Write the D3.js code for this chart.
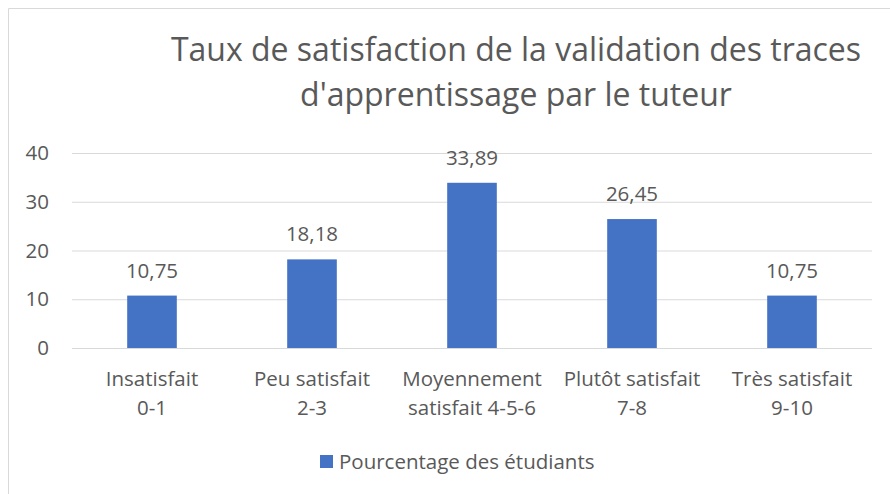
<!DOCTYPE html>
<html>
<head>
<meta charset="utf-8">
<script src="https://cdn.jsdelivr.net/npm/d3@7"></script>
<style>
  body { margin: 0; background: #fff; }
  text { font-family: "Open Sans", "Noto Sans", sans-serif; fill: #595959; }
</style>
</head>
<body>
<svg id="chart"></svg>
<script>
const categories = [
  ['Insatisfait', '0-1'],
  ['Peu satisfait', '2-3'],
  ['Moyennement', 'satisfait 4-5-6'],
  ['Plutôt satisfait', '7-8'],
  ['Très satisfait', '9-10']
];
const values = [10.75, 18.18, 33.89, 26.45, 10.75];
const yTicks = [0, 10, 20, 30, 40];
const titleLines = ['Taux de satisfaction de la validation des traces', "d'apprentissage par le tuteur"];
const seriesName = 'Pourcentage des étudiants';

const width = 890;
const height = 494;
const plotLeft = 72;
const plotRight = 872;
const plotTop = 153;
const plotBottom = 348;
const barColor = '#4472c4';
const fontSize = '20.5px';

const svg = d3.select('#chart')
  .attr('width', width)
  .attr('height', height);

// chart frame
svg.append('path')
  .attr('d', `M8.5,${height} V8.5 H${width}`)
  .attr('fill', 'none')
  .attr('stroke', '#d9d9d9');

const x = d3.scaleBand()
  .domain(d3.range(categories.length))
  .range([plotLeft, plotRight])
  .paddingInner(0.69)
  .paddingOuter(0.345);

const y = d3.scaleLinear()
  .domain([0, 40])
  .range([plotBottom, plotTop]);

// title
svg.append('text')
  .attr('text-anchor', 'middle')
  .style('font-size', '32px')
  .selectAll('tspan')
  .data(titleLines)
  .enter()
  .append('tspan')
  .attr('x', 516)
  .attr('y', (d, i) => 61 + i * 45)
  .text((d) => d);

// gridlines + y labels
const yAxis = svg.append('g')
  .attr('transform', `translate(${plotLeft}, 0)`)
  .call(d3.axisLeft(y).tickValues(yTicks).tickSize(-(plotRight - plotLeft)).tickPadding(23));
yAxis.select('.domain').remove();
yAxis.selectAll('line').attr('stroke', '#d9d9d9').attr('stroke-width', 1);
yAxis.selectAll('text').style('font-size', fontSize).attr('fill', '#595959');

// bars
svg.selectAll('rect.bar')
  .data(values)
  .enter()
  .append('rect')
  .attr('class', 'bar')
  .attr('fill', barColor)
  .attr('x', (d, i) => x(i))
  .attr('y', (d) => y(d))
  .attr('width', x.bandwidth())
  .attr('height', (d) => plotBottom - y(d));

// value labels
svg.selectAll('text.val')
  .data(values)
  .enter()
  .append('text')
  .attr('class', 'val')
  .attr('x', (d, i) => x(i) + x.bandwidth() / 2)
  .attr('y', (d) => y(d) - 18)
  .attr('text-anchor', 'middle')
  .style('font-size', fontSize)
  .text((d) => d.toFixed(2).replace('.', ','));

// x axis line
svg.append('line')
  .attr('x1', plotLeft).attr('x2', plotRight)
  .attr('y1', plotBottom + 0.5).attr('y2', plotBottom + 0.5)
  .attr('stroke', '#d9d9d9');

// category labels
const cat = svg.selectAll('text.cat')
  .data(categories)
  .enter()
  .append('text')
  .attr('class', 'cat')
  .attr('text-anchor', 'middle')
  .style('font-size', fontSize);
cat.selectAll('tspan')
  .data((d, i) => d.map((t) => ({t, i})))
  .enter()
  .append('tspan')
  .attr('x', (d) => x(d.i) + x.bandwidth() / 2)
  .attr('y', (d, j) => 386 + j * 29)
  .text((d) => d.t);

// legend
svg.append('rect')
  .attr('x', 320).attr('y', 455)
  .attr('width', 13).attr('height', 13)
  .attr('fill', barColor);
svg.append('text')
  .attr('x', 339).attr('y', 469)
  .style('font-size', fontSize)
  .text(seriesName);
</script>
</body>
</html>
